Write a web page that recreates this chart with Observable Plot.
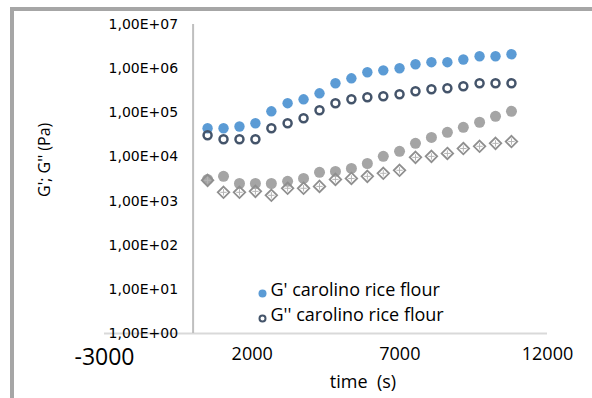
<!DOCTYPE html>
<html>
<head>
<meta charset="utf-8">
<script src="https://cdn.jsdelivr.net/npm/d3@7"></script>
<script src="https://cdn.jsdelivr.net/npm/@observablehq/plot@0.6"></script>
<style>
  body { margin: 0; background: #fff; }
  #wrap { position: relative; width: 592px; height: 398px; overflow: hidden; }
  #wrap svg { position: absolute; left: 0; top: 0; }
  #border { position: absolute; left: 10px; top: 7px; right: -10px; bottom: -10px;
            border-top: 4px solid #a6a6a6; border-left: 4px solid #a6a6a6; pointer-events: none; }
</style>
</head>
<body>
<div id="wrap"><div id="border"></div></div>
<script>
// time (s)
const time = [490, 1030, 1570, 2110, 2650, 3200, 3740, 4280, 4820, 5360,
              5900, 6440, 6990, 7530, 8070, 8610, 9150, 9700, 10240, 10780];
// G' carolino rice flour (Pa)
const gPrime = [44600, 44600, 49000, 57800, 108000, 165000, 202000, 276000, 466000, 604000,
                830000, 914000, 1020000, 1260000, 1400000, 1400000, 1610000, 1910000, 1910000, 2120000];
// G'' carolino rice flour (Pa)
const gDouble = [30900, 25100, 25100, 25100, 44600, 57800, 75000, 114000, 165000, 202000,
                 225000, 237000, 263000, 307000, 341000, 360000, 398000, 466000, 466000, 466000];
// second sample, G' (grey filled markers, not in legend)
const gPrime2 = [3100, 3630, 2500, 2500, 2500, 2800, 3250, 4470, 4700, 5500,
                 7100, 10300, 13400, 20300, 27700, 36000, 46900, 61000, 83000, 108000];
// second sample, G'' (grey open diamonds, not in legend)
const gDouble2 = [2950, 1580, 1580, 1660, 1350, 1950, 1950, 2150, 3100, 3250,
                  3630, 4260, 4980, 9780, 10300, 12000, 15500, 17400, 20300, 22300];

const seriesNames = ["G' carolino rice flour", "G'' carolino rice flour"];
const yTicks = [1, 10, 100, 1000, 10000, 100000, 1000000, 10000000];
const yTickLabels = ["1,00E+00", "1,00E+01", "1,00E+02", "1,00E+03", "1,00E+04", "1,00E+05", "1,00E+06", "1,00E+07"];
const xTicks = [2000, 7000, 12000];
const xFirstTick = [-3000];
const xTitle = "time  (s)";
const yTitle = "G'; G'' (Pa)";

const rows = (vals) => time.map((t, i) => ({t, v: vals[i]}));
const OS = "'Open Sans', Lato, sans-serif";
const DV = "'DejaVu Sans', Verdana, sans-serif";

const chart = Plot.plot({
  width: 592,
  height: 398,
  marginLeft: 104,
  marginRight: 45,
  marginTop: 24,
  marginBottom: 65,
  style: {fontFamily: OS, fontSize: "14px", background: "transparent", color: "#000"},
  x: {domain: [-3000, 12000], axis: null},
  y: {type: "log", domain: [1, 1e7], axis: null},
  marks: [
    Plot.ruleY([1], {stroke: "#d9d9d9", strokeWidth: 2}),
    Plot.ruleX([0], {y1: 1, y2: 1e7, stroke: "#bfbfbf", strokeWidth: 2}),
    Plot.text(yTicks, {x: () => 0, y: d => d, text: (d, i) => yTickLabels[i], textAnchor: "end", dx: -15, fontFamily: DV, fontSize: 14, fill: "#000"}),
    Plot.text(xTicks, {x: d => d, frameAnchor: "bottom", dy: 26, text: d => String(d), fontSize: 18, fill: "#000"}),
    Plot.text(xFirstTick, {x: d => d, frameAnchor: "bottom", dy: 31, text: d => String(d), fontSize: 23, fill: "#000"}),
    Plot.text([xTitle], {frameAnchor: "bottom", dx: 37, dy: 54, text: d => d, fontSize: 18, fill: "#000"}),
    Plot.text([yTitle], {frameAnchor: "left", dx: -60, dy: 18, rotate: -90, text: d => d, fontSize: 16, fill: "#000"}),
    Plot.dot(rows(gPrime), {x: "t", y: "v", r: 5.2, fill: "#5b9bd5", stroke: "none"}),
    Plot.dot(rows(gDouble), {x: "t", y: "v", r: 4, fill: "none", stroke: "#44546a", strokeWidth: 2.5}),
    Plot.dot(rows(gPrime2), {x: "t", y: "v", r: 5.5, fill: "#a5a5a5", stroke: "none"}),
    Plot.dot(rows(gDouble2), {x: "t", y: "v", r: 5.2, symbol: "diamond2", fill: "none", stroke: "#8f8f8f", strokeWidth: 1.8}),
    Plot.dot(rows(gDouble2), {x: "t", y: "v", r: 2.2, symbol: "plus", fill: "none", stroke: "#b5b5b5", strokeWidth: 1}),
    // legend
    Plot.dot([seriesNames[0]], {frameAnchor: "bottom-left", dx: 158, dy: -40, r: 4, fill: "#5b9bd5", stroke: "none"}),
    Plot.dot([seriesNames[1]], {frameAnchor: "bottom-left", dx: 158, dy: -15, r: 3, fill: "none", stroke: "#44546a", strokeWidth: 2}),
    Plot.text([seriesNames[0]], {frameAnchor: "bottom-left", dx: 166, dy: -38, text: d => d, textAnchor: "start", fontSize: 18, fill: "#000"}),
    Plot.text([seriesNames[1]], {frameAnchor: "bottom-left", dx: 166, dy: -13, text: d => d, textAnchor: "start", fontSize: 18, fill: "#000"})
  ]
});
document.getElementById("wrap").insertBefore(chart, document.getElementById("border"));
</script>
</body>
</html>
